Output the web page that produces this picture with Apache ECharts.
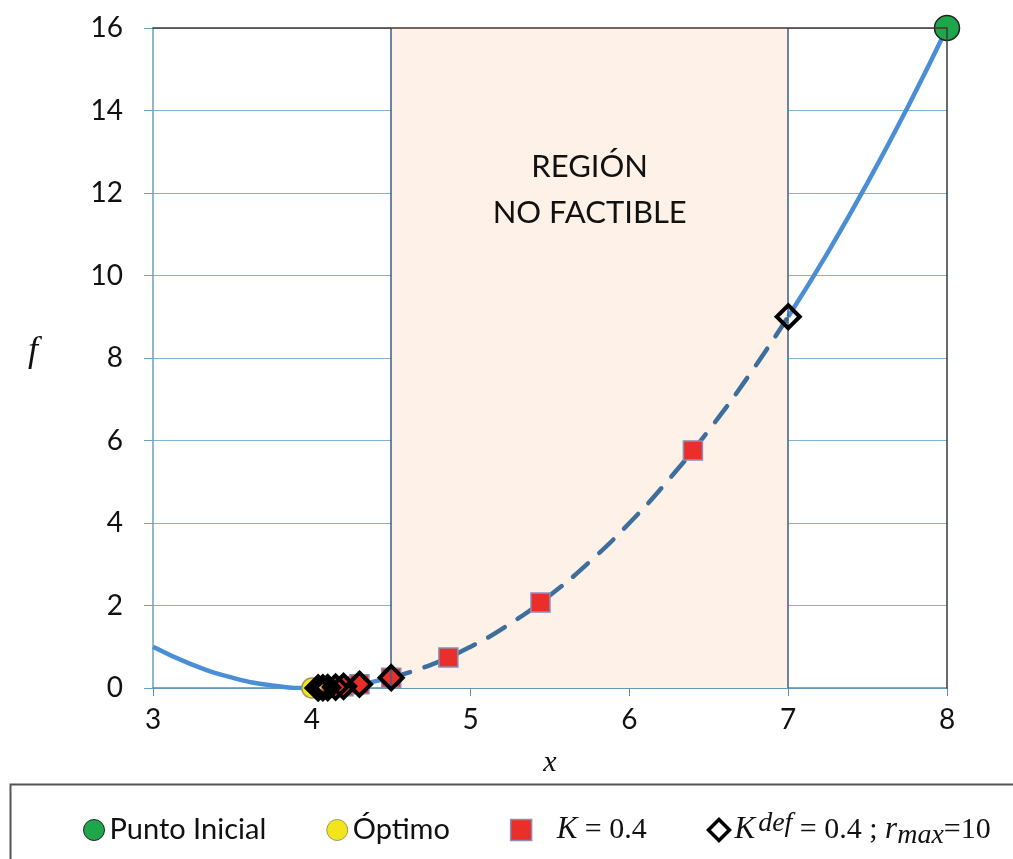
<!DOCTYPE html>
<html>
<head>
<meta charset="utf-8">
<script src="https://cdn.jsdelivr.net/npm/echarts@6/dist/echarts.min.js"></script>
<style>html,body{margin:0;padding:0;background:#fff}#c{width:1013px;height:859px}</style>
</head>
<body>
<div id="c"></div>
<script>
// Curve f(x), in three pieces
const curveLeftX = [3, 3.25, 3.5, 3.75, 4, 4.25, 4.5];
const curveLeftY = [1, 0.5625, 0.25, 0.0625, 0, 0.0625, 0.25];
const curveMidX = [4.5, 4.75, 5, 5.25, 5.5, 5.75, 6, 6.25, 6.5, 6.75, 7];
const curveMidY = [0.25, 0.5625, 1, 1.5625, 2.25, 3.0625, 4, 5.0625, 6.25, 7.5625, 9];
const curveRightX = [7, 7.25, 7.5, 7.75, 8];
const curveRightY = [9, 10.5625, 12.25, 14.0625, 16];
// Markers
const initialX = [8], initialY = [16];
const optimoX = [4], optimoY = [0];
const kX = [4.07, 4.12, 4.2, 4.3, 4.5, 4.86, 5.44, 6.4];
const kY = [0.005, 0.014, 0.04, 0.09, 0.25, 0.74, 2.07, 5.76];
const kdefX = [4.04, 4.07, 4.1, 4.15, 4.2, 4.3, 4.5, 7];
const kdefY = [0.002, 0.005, 0.01, 0.022, 0.04, 0.09, 0.25, 9];
// Region / axes
const regionX = [4.5, 7];
const xTicks = [3, 4, 5, 6, 7, 8];
const yTicks = [0, 2, 4, 6, 8, 10, 12, 14, 16];
const names = ['Punto Inicial', 'Óptimo', 'K = 0.4', 'Kdef'];

const zip = (xs, ys) => xs.map((x, i) => [x, ys[i]]);
const chart = echarts.init(document.getElementById('c'));
const sans = 'Lato';
const serif = 'Liberation Serif';
const xMin = xTicks[0], xMax = xTicks[xTicks.length - 1];
const yMin = yTicks[0], yMax = yTicks[yTicks.length - 1];

chart.setOption({
  animation: false,
  grid: { left: 153, right: 66, top: 28, bottom: 171 },
  xAxis: [{
    type: 'value', min: xMin, max: xMax, interval: 1,
    name: 'x', nameLocation: 'middle', nameGap: 60,
    nameTextStyle: { fontFamily: serif, fontStyle: 'italic', fontSize: 30, color: '#111' },
    axisLine: { show: true, onZero: false, lineStyle: { color: '#5b8fb0', width: 1.5 } },
    axisTick: { show: true, length: 8, lineStyle: { color: '#5b8fb0' } },
    axisLabel: { fontFamily: sans, fontSize: 28, color: '#111', margin: 18 },
    splitLine: { show: false }
  }, {
    type: 'value', position: 'top', min: xMin, max: xMax, z: 10,
    axisLine: { show: true, onZero: false, lineStyle: { color: '#4a3530', width: 1.5 } },
    axisTick: { show: false }, axisLabel: { show: false }, splitLine: { show: false }
  }],
  yAxis: [{
    type: 'value', min: yMin, max: yMax, interval: 2,
    axisLine: { show: true, lineStyle: { color: '#6aa0c0', width: 1.5 } },
    axisTick: { show: true, length: 9, lineStyle: { color: '#6aa0c0' } },
    axisLabel: { fontFamily: sans, fontSize: 28, color: '#111', margin: 30 },
    splitLine: { show: true, lineStyle: { color: '#7fb4d4', width: 1 } }
  }, {
    type: 'value', position: 'right', min: yMin, max: yMax, z: 10,
    axisLine: { show: true, onZero: false, lineStyle: { color: '#3a3a3a', width: 1.5 } },
    axisTick: { show: false }, axisLabel: { show: false }, splitLine: { show: false }
  }],
  legend: {
    data: [
      { name: names[0], icon: 'circle', itemStyle: { color: '#1fa64a', borderColor: '#222', borderWidth: 1 } },
      { name: names[1], icon: 'circle', itemStyle: { color: '#f2e51c', borderColor: '#9a9a60', borderWidth: 1 } },
      { name: names[2], icon: 'rect', itemStyle: { color: '#ea2e2a', borderColor: '#8890b8', borderWidth: 1.5 } },
      { name: names[3], icon: 'diamond', itemStyle: { color: '#fff', borderColor: '#000', borderWidth: 3.5 } }
    ],
    left: 78, top: 803, itemGap: 60, itemWidth: 21, itemHeight: 21,
    formatter: function (n) {
      if (n === names[2]) return '{gap|}{i|K}{n| = 0.4}';
      if (n === names[3]) return '{i|K}{sup|def}{n| = 0.4 ; }{i|r}{sub|max}{n|=10}';
      return '{s|' + n + '}';
    },
    textStyle: {
      rich: {
        s: { fontFamily: sans, fontSize: 29, color: '#111', lineHeight: 40 },
        gap: { width: 20 },
        i: { fontFamily: serif, fontStyle: 'italic', fontSize: 31, color: '#111', lineHeight: 40 },
        n: { fontFamily: serif, fontSize: 30, color: '#111', lineHeight: 40 },
        sup: { fontFamily: serif, fontStyle: 'italic', fontSize: 28, color: '#111', lineHeight: 40, verticalAlign: 'top', padding: [0, 0, 26, 3] },
        sub: { fontFamily: serif, fontStyle: 'italic', fontSize: 28, color: '#111', lineHeight: 40, verticalAlign: 'bottom', padding: [14, 0, 0, 0] }
      }
    }
  },
  graphic: [
    { type: 'rect', left: 8, top: 782, shape: { width: 1030, height: 100 }, style: { fill: 'none', stroke: '#555', lineWidth: 2 }, z: -1 },
    { type: 'text', left: 28, top: 334, style: { text: 'f', fontFamily: serif, fontStyle: 'italic', fontSize: 36, fill: '#111' } }
  ],
  series: [
    {
      type: 'line', data: zip(curveLeftX, curveLeftY), smooth: true, symbol: 'none',
      lineStyle: { color: '#4a8fd6', width: 4.5 }, z: 3,
      markArea: {
        silent: true, itemStyle: { color: '#fdf1e8' },
        label: { show: true, position: 'insideTop', distance: 116, formatter: 'REGIÓN\nNO FACTIBLE', fontFamily: sans, fontSize: 31, lineHeight: 46, color: '#111' },
        data: [[{ xAxis: regionX[0] }, { xAxis: regionX[1] }]]
      },
      markLine: {
        silent: true, symbol: 'none', label: { show: false },
        lineStyle: { color: '#3d5c85', width: 1.5, type: 'solid' },
        data: [{ xAxis: regionX[0] }, { xAxis: regionX[1] }]
      }
    },
    { type: 'line', data: zip(curveMidX, curveMidY), smooth: true, symbol: 'none', lineStyle: { color: '#3e6f9c', width: 4.5, type: [20, 15], cap: 'round' }, z: 3 },
    { type: 'line', data: zip(curveRightX, curveRightY), smooth: true, symbol: 'none', lineStyle: { color: '#4a8fd6', width: 4.5 }, z: 3 },
    { name: names[2], type: 'scatter', data: zip(kX, kY), symbol: 'rect', symbolSize: 19, itemStyle: { color: '#ea2e2a', borderColor: '#8890b8', borderWidth: 1.5, opacity: 1 }, z: 4 },
    { name: names[1], type: 'scatter', data: zip(optimoX, optimoY), symbol: 'circle', symbolSize: 20, itemStyle: { color: '#f2e51c', borderColor: '#9a9a60', borderWidth: 1.5, opacity: 1 }, z: 4 },
    { name: names[3], type: 'scatter', data: zip(kdefX, kdefY), symbol: 'diamond', symbolSize: 23, itemStyle: { color: 'rgba(0,0,0,0)', borderColor: '#000', borderWidth: 4, opacity: 1 }, z: 5 },
    { name: names[0], type: 'scatter', data: zip(initialX, initialY), symbol: 'circle', symbolSize: 25, itemStyle: { color: '#1fa64a', borderColor: '#222', borderWidth: 1.5, opacity: 1 }, z: 6 }
  ]
});
</script>
</body>
</html>
